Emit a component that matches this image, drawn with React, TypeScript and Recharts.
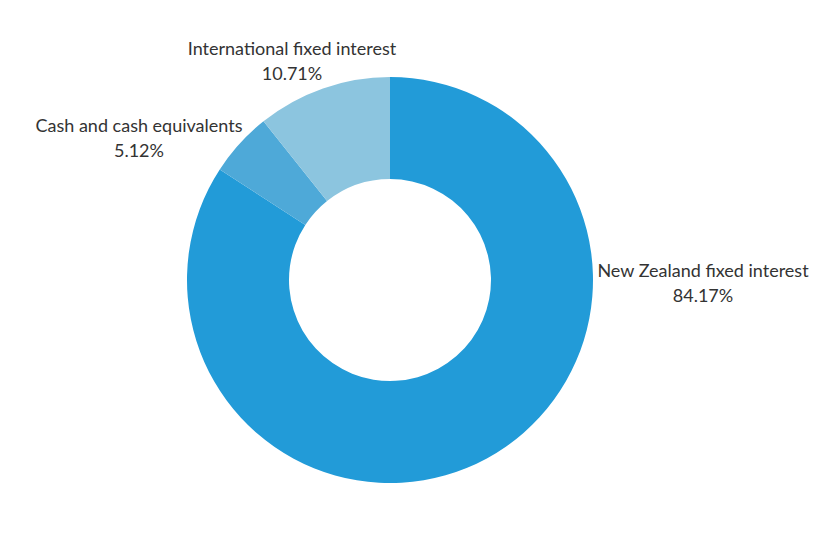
import React from 'react';
import { PieChart, Pie, Cell } from 'recharts';

const categories = ['New Zealand fixed interest', 'Cash and cash equivalents', 'International fixed interest'];
const shares = [84.17, 5.12, 10.71];
const colors = ['#229bd8', '#4ea9d8', '#8cc5df'];

const data = categories.map((name, i) => ({ name, value: shares[i] }));

// label placement relative to the donut centre (baseline of first line), Excel-style best fit
const labelOffsets: Record<string, [number, number]> = {
    'New Zealand fixed interest': [313, -3],
    'Cash and cash equivalents': [-251, -148],
    'International fixed interest': [-98, -225],
};

const renderLabel = (props: any) => {
    const { cx, cy, name, value } = props;
    const [dx, dy] = labelOffsets[name] || [0, 0];
    const x = cx + dx;
    const y = cy + dy;
    return (
        <text x={x} y={y} textAnchor="middle" fill="#333333" fontSize={18} fontFamily="Lato, 'Open Sans', sans-serif">
            <tspan x={x} y={y}>{name}</tspan>
            <tspan x={x} y={y + 25}>{value.toFixed(2)}%</tspan>
        </text>
    );
};

const App: React.FC = () => {
    return (
        <div style={{ position: 'absolute', left: 0, top: 0, width: 813, height: 538, background: '#fff' }}>
            <PieChart width={813} height={538} margin={{ top: 0, right: 0, bottom: 0, left: 0 }}>
                <Pie
                    data={data}
                    dataKey="value"
                    nameKey="name"
                    cx={390}
                    cy={280}
                    innerRadius={101}
                    outerRadius={203}
                    startAngle={90}
                    endAngle={-270}
                    stroke="none"
                    label={renderLabel}
                    labelLine={false}
                    isAnimationActive={false}
                >
                    {data.map((d, i) => (
                        <Cell key={d.name} fill={colors[i]} />
                    ))}
                </Pie>
            </PieChart>
        </div>
    );
};

export default App;
